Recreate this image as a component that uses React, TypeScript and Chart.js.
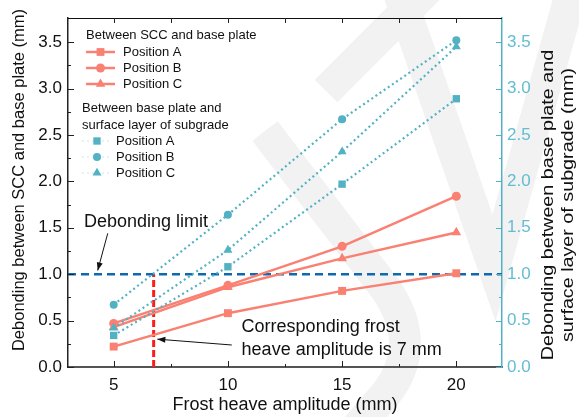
import React, { useEffect, useRef } from 'react';
import { Chart, registerables } from 'chart.js';
import { drawPoint } from 'chart.js/helpers';
Chart.register(...registerables);

// ---------- data ----------
const frostHeave = [5, 10, 15, 20];
const sccA = [0.22, 0.58, 0.82, 1.01];
const sccB = [0.47, 0.88, 1.3, 1.84];
const sccC = [0.43, 0.86, 1.17, 1.45];
const subA = [0.34, 1.08, 1.97, 2.89];
const subB = [0.67, 1.64, 2.67, 3.52];
const subC = [0.42, 1.26, 2.32, 3.45];
const xTicks = [5, 10, 15, 20];
const xMinorTicks = [7.5, 12.5, 17.5];
const yTicks = [0, 0.5, 1, 1.5, 2, 2.5, 3, 3.5];
const yMinorTicks = [0.25, 0.75, 1.25, 1.75, 2.25, 2.75, 3.25];
const xRange = [3, 22];
const yRange = [0, 3.76];
const debondingLimit = 1.0;
const correspondingAmplitude = 6.75;
const positionLabels = ['Position A', 'Position B', 'Position C'];

// ---------- styles ----------
const RED = '#fa8072';
const TEAL = '#52b2c4';
const TEAL_TXT = '#62bdd0';
const BLUE = '#0f68b0';
const FONT = '"Liberation Sans", Arial, Helvetica, sans-serif';
const markers = ['rect', 'circle', 'triangle'];

const toPts = (ys: number[]) => frostHeave.map((x, i) => ({ x, y: ys[i] }));

function arrow(ctx: CanvasRenderingContext2D, x1: number, y1: number, x2: number, y2: number) {
  ctx.beginPath();
  ctx.moveTo(x1, y1);
  ctx.lineTo(x2, y2);
  ctx.stroke();
  const a = Math.atan2(y2 - y1, x2 - x1);
  const L = 8, W = 3;
  ctx.beginPath();
  ctx.moveTo(x2, y2);
  ctx.lineTo(x2 - L * Math.cos(a) + W * Math.sin(a), y2 - L * Math.sin(a) - W * Math.cos(a));
  ctx.lineTo(x2 - L * Math.cos(a) - W * Math.sin(a), y2 - L * Math.sin(a) + W * Math.cos(a));
  ctx.closePath();
  ctx.fill();
}

const watermark = {
  id: 'watermark',
  beforeDraw(chart: any) {
    const ctx = chart.ctx;
    ctx.save();
    ctx.strokeStyle = '#f2f2f2';
    ctx.lineWidth = 32;
    ctx.lineCap = 'butt';
    ctx.lineJoin = 'miter';
    ctx.beginPath();
    ctx.moveTo(326, 91);
    ctx.lineTo(445, -28);
    ctx.stroke();
    ctx.beginPath();
    ctx.moveTo(265, 131);
    ctx.lineTo(385, 288);
    ctx.quadraticCurveTo(425, 345, 385, 395);
    ctx.lineTo(355, 430);
    ctx.stroke();
    ctx.beginPath();
    ctx.moveTo(398, -10);
    ctx.lineTo(494, 268);
    ctx.lineTo(572, -10);
    ctx.stroke();
    ctx.restore();
  },
};

const frame = {
  id: 'frame',
  afterDraw(chart: any) {
    const ctx = chart.ctx;
    const { left, right, top, bottom } = chart.chartArea;
    const xs = chart.scales.x, ys = chart.scales.y, y1 = chart.scales.y1;
    ctx.save();
    // top frame
    ctx.strokeStyle = '#111';
    ctx.lineWidth = 1;
    ctx.beginPath();
    ctx.moveTo(left, top + 0.5);
    ctx.lineTo(right, top + 0.5);
    ctx.stroke();
    // x ticks (bottom & top, inward)
    ctx.lineWidth = 1;
    const tick = (x: number, y: number, dx: number, dy: number) => {
      ctx.beginPath();
      ctx.moveTo(x, y);
      ctx.lineTo(x + dx, y + dy);
      ctx.stroke();
    };
    ctx.strokeStyle = '#222';
    xTicks.forEach((v) => {
      const px = Math.round(xs.getPixelForValue(v)) + 0.5;
      tick(px, bottom, 0, -6);
      tick(px, top, 0, 5);
    });
    xMinorTicks.forEach((v) => {
      const px = Math.round(xs.getPixelForValue(v)) + 0.5;
      tick(px, bottom, 0, -3);
      tick(px, top, 0, 5);
    });
    yTicks.forEach((v) => {
      const py = Math.round(ys.getPixelForValue(v)) + 0.5;
      tick(left, py, 6, 0);
    });
    yMinorTicks.forEach((v) => {
      const py = Math.round(ys.getPixelForValue(v)) + 0.5;
      tick(left, py, 3, 0);
    });
    ctx.strokeStyle = TEAL;
    yTicks.forEach((v) => {
      const py = Math.round(y1.getPixelForValue(v)) + 0.5;
      tick(right, py, -6, 0);
    });
    yMinorTicks.forEach((v) => {
      const py = Math.round(y1.getPixelForValue(v)) + 0.5;
      tick(right, py, -3, 0);
    });

    // axis titles
    ctx.fillStyle = '#111';
    ctx.textAlign = 'center';
    ctx.textBaseline = 'middle';
    ctx.font = `18px ${FONT}`;
    ctx.fillText('Frost heave amplitude (mm)', (left + right) / 2, 405);
    ctx.save();
    ctx.translate(19, 180);
    ctx.rotate(-Math.PI / 2);
    ctx.font = `16.5px ${FONT}`;
    ctx.fillText('Debonding between SCC and base plate (mm)', 0, 0);
    ctx.restore();
    ctx.save();
    ctx.translate(548, 205);
    ctx.rotate(-Math.PI / 2);
    ctx.scale(1.16, 1);
    ctx.font = `17px ${FONT}`;
    ctx.fillText('Debonding between base plate and', 0, 0);
    ctx.fillText('surface layer of subgrade (mm)', 0, 20);
    ctx.restore();

    // legend
    ctx.textAlign = 'left';
    ctx.font = `13px ${FONT}`;
    ctx.fillStyle = '#111';
    ctx.fillText('Between SCC and base plate', 86, 35);
    [52, 68, 84].forEach((y, i) => {
      ctx.strokeStyle = RED;
      ctx.lineWidth = 2.5;
      ctx.beginPath();
      ctx.moveTo(86, y);
      ctx.lineTo(115, y);
      ctx.stroke();
      ctx.fillStyle = RED;
      drawPoint(ctx, { pointStyle: markers[i], radius: i === 1 ? 4.5 : 5.5, rotation: 0, borderWidth: 0 } as any, 100.5, y);
      ctx.fillStyle = '#111';
      ctx.fillText(positionLabels[i], 123, y);
    });
    ctx.fillText('Between base plate and', 82, 108);
    ctx.fillText('surface layer of subgrade', 82, 125);
    [141, 157, 173].forEach((y, i) => {
      ctx.strokeStyle = '#e6f3f6';
      ctx.lineWidth = 2;
      ctx.setLineDash([2, 3]);
      ctx.beginPath();
      ctx.moveTo(82, y);
      ctx.lineTo(112, y);
      ctx.stroke();
      ctx.setLineDash([]);
      ctx.fillStyle = TEAL;
      drawPoint(ctx, { pointStyle: markers[i], radius: i === 1 ? 4 : 5.2, rotation: 0, borderWidth: 0 } as any, 97, y);
      ctx.fillStyle = '#111';
      ctx.fillText(positionLabels[i], 116, y);
    });

    // annotations
    ctx.font = `18px ${FONT}`;
    ctx.fillStyle = '#111';
    ctx.fillText('Debonding limit', xs.getPixelForValue(3.7), ys.getPixelForValue(1.56));
    ctx.fillText('Corresponding frost', xs.getPixelForValue(10.6), ys.getPixelForValue(0.43));
    ctx.fillText('heave amplitude is 7 mm', xs.getPixelForValue(10.6), ys.getPixelForValue(0.185));
    ctx.strokeStyle = '#111';
    ctx.lineWidth = 1;
    arrow(ctx, xs.getPixelForValue(4.74), ys.getPixelForValue(1.44), xs.getPixelForValue(4.3), ys.getPixelForValue(1.04));
    arrow(ctx, xs.getPixelForValue(10.17), ys.getPixelForValue(0.237), xs.getPixelForValue(6.91), ys.getPixelForValue(0.3));
    ctx.restore();
  },
};

export default function App() {
  const ref = useRef<HTMLCanvasElement>(null);
  useEffect(() => {
    if (!ref.current) return;
    Chart.defaults.font.family = FONT;
    const red = [sccA, sccB, sccC];
    const teal = [subA, subB, subC];
    const datasets: any[] = [];
    teal.forEach((d, i) => {
      datasets.push({
        label: 'Subgrade ' + positionLabels[i],
        data: toPts(d),
        yAxisID: 'y1',
        borderColor: TEAL,
        backgroundColor: TEAL,
        borderWidth: 2.2,
        borderDash: [2, 3],
        pointStyle: markers[i],
        pointRadius: i === 1 ? 4 : 5.2,
        pointBorderWidth: 0,
        order: 0,
      });
    });
    red.forEach((d, i) => {
      datasets.push({
        label: 'SCC ' + positionLabels[i],
        data: toPts(d),
        yAxisID: 'y',
        borderColor: RED,
        backgroundColor: RED,
        borderWidth: 2.5,
        pointStyle: markers[i],
        pointRadius: i === 1 ? 4.5 : 5.6,
        pointBorderWidth: 0,
        order: 1,
      });
    });
    datasets.push({
      label: 'Debonding limit',
      data: xRange.map((x) => ({ x, y: debondingLimit })),
      yAxisID: 'y',
      borderColor: BLUE,
      borderWidth: 2.5,
      borderDash: [8, 5],
      pointRadius: 0,
      order: 2,
    });
    datasets.push({
      label: 'Corresponding amplitude',
      data: [
        { x: correspondingAmplitude, y: 0 },
        { x: correspondingAmplitude, y: debondingLimit },
      ],
      yAxisID: 'y',
      borderColor: '#ff1a1a',
      borderWidth: 3,
      borderDash: [7, 3],
      pointRadius: 0,
      order: 2,
    });

    const chart = new Chart(ref.current, {
      type: 'line',
      data: { datasets },
      options: {
        animation: false,
        responsive: false,
        layout: { padding: { top: 18, left: 0, right: 0, bottom: 0 } },
        plugins: { legend: { display: false }, tooltip: { enabled: false } },
        scales: {
          x: {
            type: 'linear',
            min: xRange[0],
            max: xRange[1],
            afterBuildTicks: (s: any) => {
              s.ticks = xTicks.map((v) => ({ value: v }));
            },
            afterFit: (s: any) => {
              s.height = 50;
            },
            grid: { display: false, drawTicks: false },
            border: { display: true, color: '#555', width: 2 },
            ticks: { font: { size: 17 }, color: '#111', padding: 8, maxRotation: 0, autoSkip: false },
          },
          y: {
            position: 'left',
            min: yRange[0],
            max: yRange[1],
            afterBuildTicks: (s: any) => {
              s.ticks = yTicks.map((v) => ({ value: v }));
            },
            afterFit: (s: any) => {
              s.width = 68;
            },
            grid: { display: false, drawTicks: false },
            border: { display: true, color: '#222', width: 1.5 },
            ticks: { font: { size: 17 }, color: '#111', padding: 6, callback: (v: any) => Number(v).toFixed(1) },
          },
          y1: {
            position: 'right',
            min: yRange[0],
            max: yRange[1],
            afterBuildTicks: (s: any) => {
              s.ticks = yTicks.map((v) => ({ value: v }));
            },
            afterFit: (s: any) => {
              s.width = 77;
            },
            grid: { display: false, drawTicks: false },
            border: { display: true, color: TEAL, width: 1.5 },
            ticks: { font: { size: 17 }, color: TEAL_TXT, padding: 5, callback: (v: any) => Number(v).toFixed(1) },
          },
        },
      },
      plugins: [watermark, frame],
    });
    return () => chart.destroy();
  }, []);
  return (
    <div style={{ position: 'absolute', left: 0, top: 0, width: 579, height: 417, background: '#fff' }}>
      <canvas ref={ref} width={579} height={417} style={{ display: 'block' }} />
    </div>
  );
}
